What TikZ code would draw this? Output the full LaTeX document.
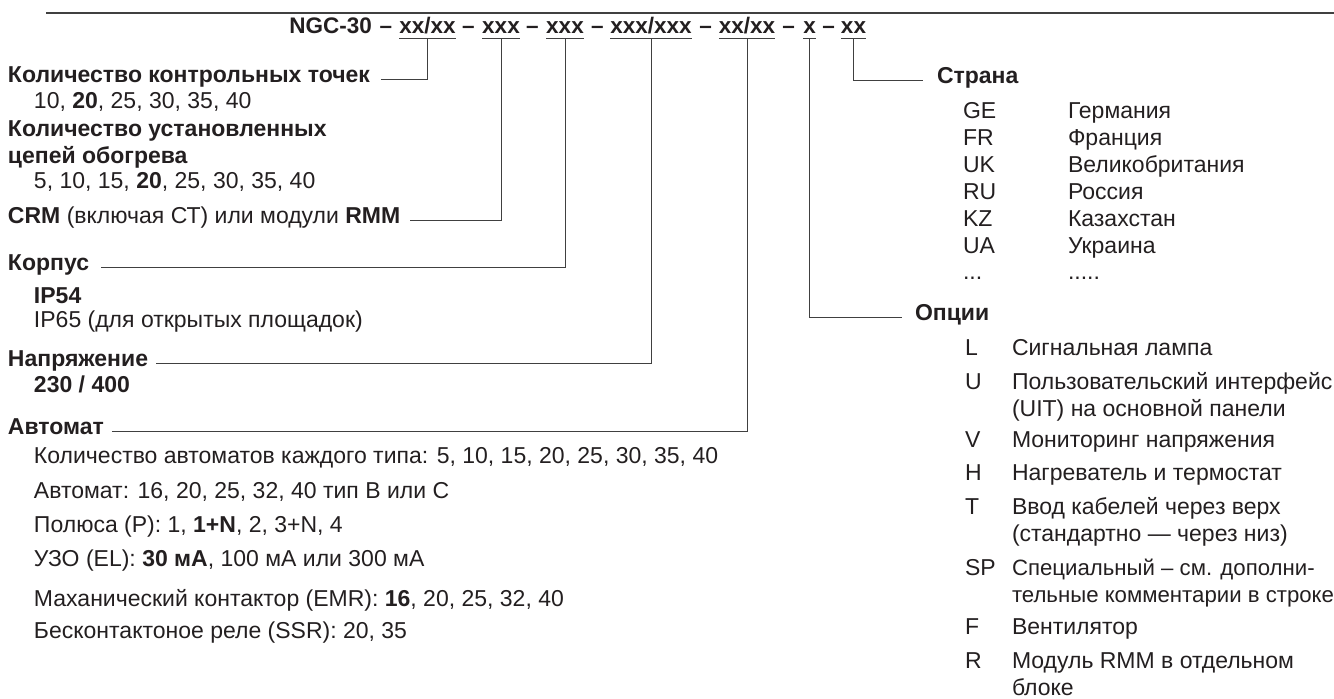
\documentclass[tikz,border=0pt]{standalone}
\usepackage{fontspec}
\setmainfont{Liberation Sans}
\definecolor{txt}{HTML}{231F20}
\definecolor{lc}{HTML}{404040}
\begin{document}
\begin{tikzpicture}[x=1pt,y=-1pt,
  every node/.style={inner sep=0pt,outer sep=0pt,text=txt},
  hd/.style={anchor=base west,font=\bfseries\fontsize{23}{27}\selectfont},
  it/.style={anchor=base west,font=\fontsize{23}{27}\selectfont},
  itml/.style={anchor=base west,align=left,font=\fontsize{23}{27}\selectfont},
  grp/.style={anchor=base,font=\bfseries\fontsize{22.5}{24}\selectfont},
  ln/.style={draw=lc,line width=1pt}]
\useasboundingbox (0,0) rectangle (1334,699);
% top rule
\draw[ln,line width=1.3pt] (46,13) -- (1334,13);
% code line
\node[grp,anchor=base east] (ngc) at (372,33) {NGC-30};
\node[grp] (d1) at (386,33) {–};
\node[grp] (g1) at (427.5,33) {xx/xx};
\node[grp] (d2) at (468.5,33) {–};
\node[grp] (g2) at (501,33) {xxx};
\node[grp] (d3) at (532.5,33) {–};
\node[grp] (g3) at (565,33) {xxx};
\node[grp] (d4) at (597.5,33) {–};
\node[grp] (g4) at (651,33) {xxx/xxx};
\node[grp] (d5) at (705.5,33) {–};
\node[grp] (g5) at (747,33) {xx/xx};
\node[grp] (d6) at (788.5,33) {–};
\node[grp] (g6) at (809.5,33) {x};
\node[grp] (d7) at (828.5,33) {–};
\node[grp] (g7) at (853.5,33) {xx};
\foreach \g in {1,2,3,4,5,6,7}{
  \draw[ln] ([yshift=-5pt]g\g.base west) -- ([yshift=-5pt]g\g.base east);
  \coordinate (u\g) at ([yshift=-5pt]g\g.base);
}
% left column
\node[hd] (h1) at (8,82) {Количество контрольных точек};
\node[it] (v1) at (34,108) {10, \textbf{20}, 25, 30, 35, 40};
\node[hd,align=left] (h2) at (8,163) {Количество установленных\\цепей обогрева};
\node[it] (v2) at (34,188) {5, 10, 15, \textbf{20}, 25, 30, 35, 40};
\node[it] (h3) at (8,223) {\textbf{CRM} (включая СТ) или модули \textbf{RMM}};
\node[hd] (h4) at (8,270) {Корпус};
\node[it] (v4a) at (34,303) {\textbf{IP54}};
\node[it] (v4b) at (34,327) {IP65 (для открытых площадок)};
\node[hd] (h5) at (8,366) {Напряжение};
\node[it] (v5) at (34,392) {\textbf{230 / 400}};
\node[hd] (h6) at (8,434) {Автомат};
\node[it] (a1) at (34,463) {Количество автоматов каждого типа: 5, 10, 15, 20, 25, 30, 35, 40};
\node[it] (a2) at (34,498) {Автомат: 16, 20, 25, 32, 40 тип B или C};
\node[it] (a3) at (34,532) {Полюса (P): 1, \textbf{1+N}, 2, 3+N, 4};
\node[it] (a4) at (34,566) {УЗО (EL): \textbf{30 мА}, 100 мА или 300 мА};
\node[it] (a5) at (34,606) {Маханический контактор (EMR): \textbf{16}, 20, 25, 32, 40};
\node[it] (a6) at (34,638) {Бесконтактоное реле (SSR): 20, 35};
% right column: country
\node[hd] (st) at (937,83) {Страна};
\node[it] (cc1) at (963,118) {GE}; \node[it] (cn1) at (1068,118) {Германия};
\node[it] (cc2) at (963,145) {FR}; \node[it] (cn2) at (1068,145) {Франция};
\node[it] (cc3) at (963,172) {UK}; \node[it] (cn3) at (1068,172) {Великобритания};
\node[it] (cc4) at (963,199) {RU}; \node[it] (cn4) at (1068,199) {Россия};
\node[it] (cc5) at (963,226) {KZ}; \node[it] (cn5) at (1068,226) {Казахстан};
\node[it] (cc6) at (963,253) {UA}; \node[it] (cn6) at (1068,253) {Украина};
\node[it] (cc7) at (963,279) {...}; \node[it] (cn7) at (1068,279) {.....};
% options
\node[hd] (op) at (915,320) {Опции};
\node[it] (oc1) at (965,355) {L};
\node[it] (ot1) at (1012,355) {Сигнальная лампа};
\node[it] (oc2) at (965,389) {U};
\node[itml] (ot2) at (1012,416) {Пользовательский интерфейс\\(UIT) на основной панели};
\node[it] (oc3) at (965,447) {V};
\node[it] (ot3) at (1012,447) {Мониторинг напряжения};
\node[it] (oc4) at (965,480) {H};
\node[it] (ot4) at (1012,480) {Нагреватель и термостат};
\node[it] (oc5) at (965,514) {T};
\node[itml] (ot5) at (1012,541) {Ввод кабелей через верх\\(стандартно — через низ)};
\node[it] (oc6) at (965,575) {SP};
\node[itml,font=\fontsize{22.2}{27}\selectfont] (ot6) at (1012,602) {Специальный – см. дополни-\\тельные комментарии в строке};
\node[it] (oc7) at (965,634) {F};
\node[it] (ot7) at (1012,634) {Вентилятор};
\node[it] (oc8) at (965,668) {R};
\node[itml] (ot8) at (1012,695) {Модуль RMM в отдельном\\блоке};
% connectors
\draw[ln] ([xshift=11pt]h1.mid east) -| (u1);
\draw[ln] ([xshift=10pt]h3.mid east) -| (u2);
\draw[ln] ([xshift=12pt]h4.mid east) -| (u3);
\draw[ln] ([xshift=8pt]h5.mid east) -| (u4);
\draw[ln] ([xshift=8pt]h6.mid east) -| (u5);
\draw[ln] (u6) |- ([xshift=-13pt]op.mid west);
\draw[ln] (u7) |- ([xshift=-14pt]st.mid west);
\end{tikzpicture}
\end{document}
